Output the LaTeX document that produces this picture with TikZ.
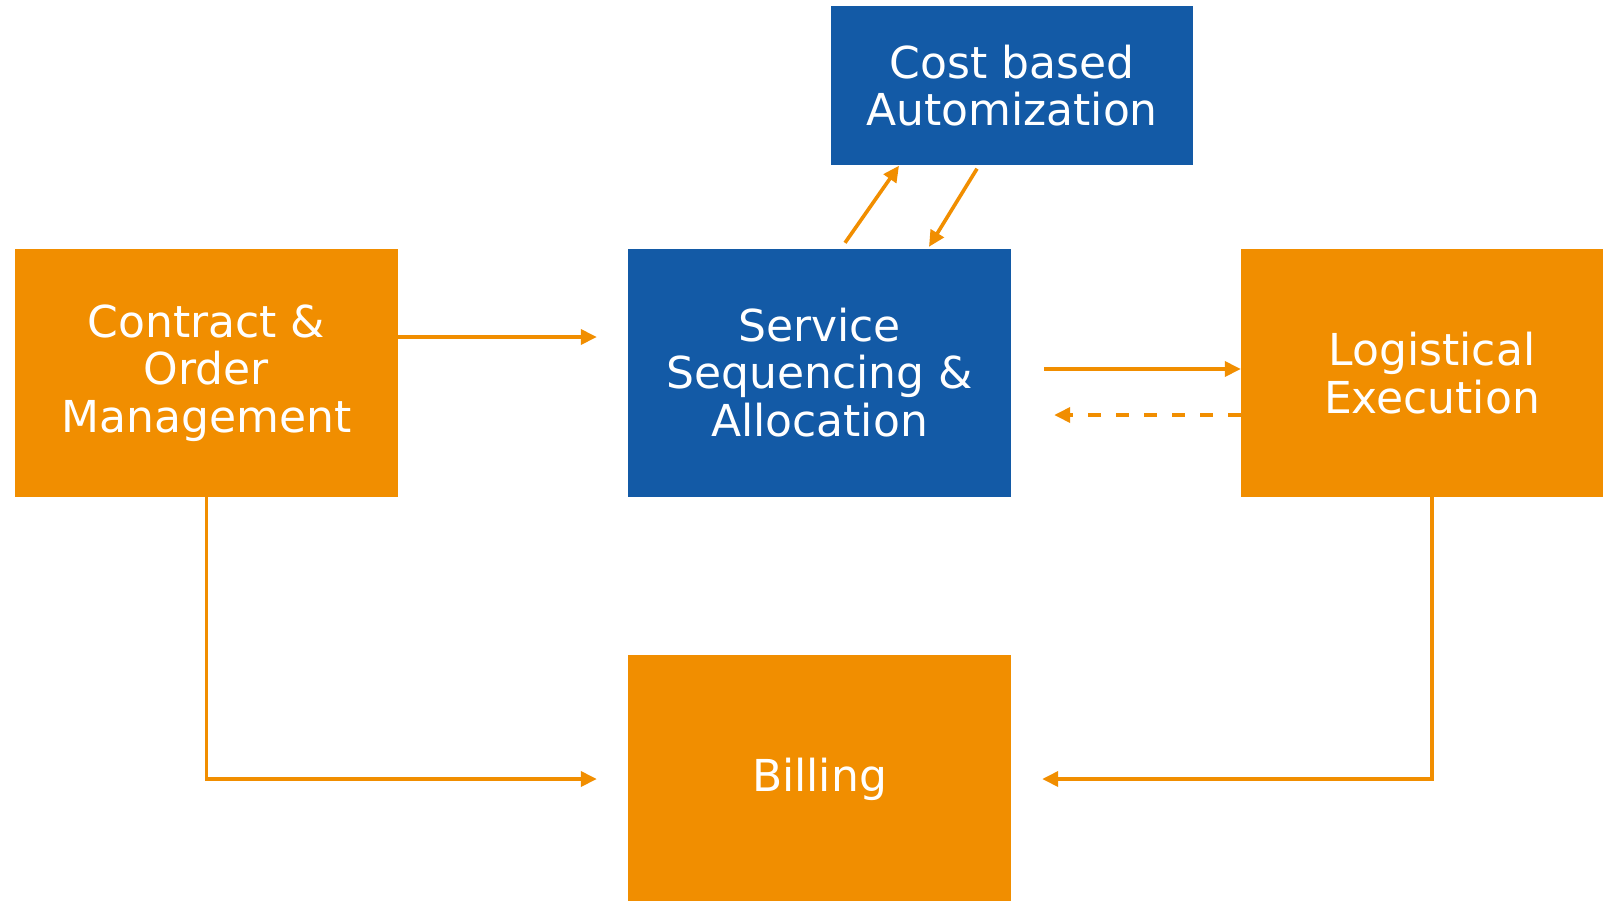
\documentclass[tikz,border=0pt]{standalone}
\usepackage{fontspec}
\setmainfont{DejaVu Sans}
\usetikzlibrary{arrows.meta}
\definecolor{orangeC}{RGB}{241,142,0}
\definecolor{blueC}{RGB}{19,90,166}
\tikzset{
  box/.style={rectangle, inner sep=0pt, text=white, align=center,
    font=\fontsize{44}{47.5}\selectfont, minimum width=383pt, minimum height=248pt},
  obox/.style={box, fill=orangeC},
  bbox/.style={box, fill=blueC},
  conn/.style={draw=orangeC, line width=3.6pt, -{Triangle[length=16pt,width=15pt]}},
}
\begin{document}
\begin{tikzpicture}[x=1pt,y=-1pt]
\useasboundingbox (0,0) rectangle (1603,900);
\fill[white] (0,0) rectangle (1603,900);
\clip (0,0) rectangle (1603,900);
\node[obox] (contract) at (206.5,373) {Contract \&\\Order\\Management};
\node[bbox] (service) at (819.5,372.5) {Service\\Sequencing \&\\Allocation};
\node[obox, minimum width=382pt] (logist) at (1432,373) {Logistical\\Execution};
\node[bbox, minimum width=362pt, minimum height=159pt] (cost) at (1012,85.5) {Cost based\\Automization};
\node[obox] (billing) at (819.5,779) {Billing};

\draw[conn] ([yshift=36pt]contract.east) -- ([xshift=-31pt,yshift=35.5pt]service.west);
\draw[conn] ([xshift=33pt,yshift=3.5pt]service.east) -- ([yshift=4pt]logist.west);
\draw[conn, dash pattern=on 12.5pt off 15.5pt] ([yshift=-42pt]logist.west) -- ([xshift=43pt,yshift=-42.5pt]service.east);
\draw[conn] (contract.south) |- ([xshift=-31pt]billing.west);
\draw[conn] (logist.south) |- ([xshift=31pt]billing.east);
\draw[conn] ([xshift=25.5pt,yshift=5.5pt]service.north) -- ([xshift=-113pt,yshift=-0.5pt]cost.south);
\draw[conn] ([xshift=-35pt,yshift=-3.5pt]cost.south) -- ([xshift=109.5pt,yshift=1.5pt]service.north);
\end{tikzpicture}
\end{document}
